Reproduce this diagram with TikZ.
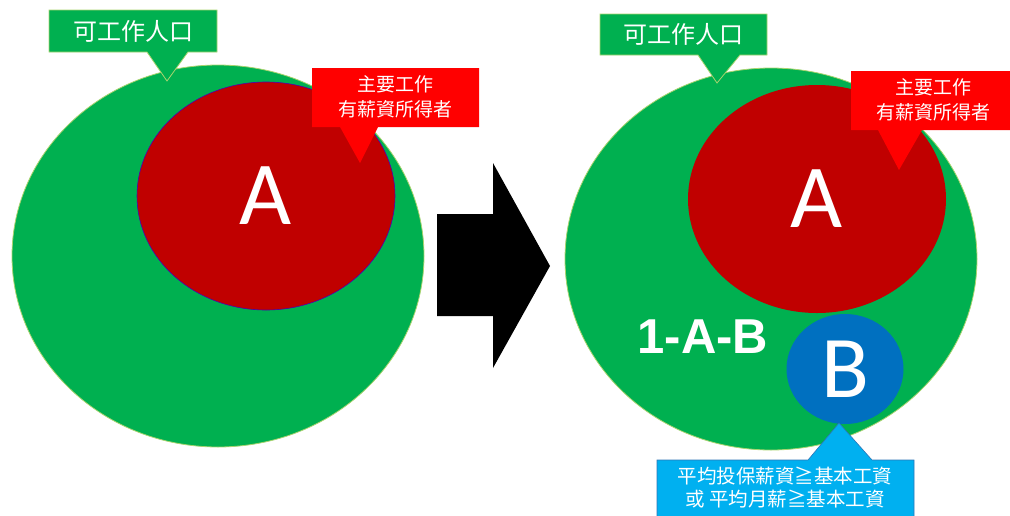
\documentclass[tikz,border=0pt]{standalone}
\usepackage{fontspec}
\setmainfont{Liberation Sans}
\newfontfamily\cjk{Noto Sans CJK TC}
\newfontfamily\calib{Carlito}
\usetikzlibrary{shapes.geometric}
\definecolor{popgreen}{HTML}{00B050}
\definecolor{popedge}{HTML}{A9D46F}
\definecolor{workred}{HTML}{C00000}
\definecolor{tagred}{HTML}{FF0000}
\definecolor{wageblue}{HTML}{0070C0}
\definecolor{tagblue}{HTML}{00B0F0}
\definecolor{tagedge}{HTML}{2E75B6}
\tikzset{
	popset/.style={ellipse, fill=popgreen, draw=popedge, line width=0.8pt, minimum width=412pt, minimum height=382pt, inner sep=0pt},
	workset/.style={ellipse, fill=workred, minimum width=258pt, minimum height=228pt, inner sep=0pt, text=white, font=\calib\fontsize{90}{90}\selectfont},
	wageset/.style={ellipse, fill=wageblue, minimum width=117pt, minimum height=110pt, inner sep=0pt, text=white, font=\calib\fontsize{88}{88}\selectfont},
	poptag/.style={text=white, font=\cjk\fontsize{24}{28}\selectfont},
	worktag/.style={text=white, align=center, font=\cjk\fontsize{19}{25}\selectfont},
	wagetag/.style={text=white, align=center, font=\cjk\fontsize{19.5}{23}\selectfont}
}
\begin{document}
\begin{tikzpicture}[x=1pt,y=-1pt]
	\useasboundingbox (0,0) rectangle (1010,515);
	\node[popset] (popL) at (218,256) {};
	\node[workset, draw=violet!60!blue, line width=0.6pt] (workL) at (266,196) {A};
	\fill[popgreen, draw=popedge, line width=0.8pt] (49,10) -- (217,10) -- (217,52) -- (188,52) -- (167,81) -- (147,52) -- (49,52) -- cycle;
	\node[poptag] (tagPopL) at (133,31) {可工作人口};
	\fill[tagred] (312,68) -- (479,68) -- (479,127) -- (378,127) -- (360,163) -- (340,127) -- (312,127) -- cycle;
	\node[worktag] (tagWorkL) at (395,97) {主要工作\\有薪資所得者};
	\fill[black] (437,214) -- (493,214) -- (493,163) -- (550,266) -- (493,368) -- (493,316) -- (437,316) -- cycle;
	\node[popset] (popR) at (771,259) {};
	\node[workset] (workR) at (817,199) {A};
	\node[wageset] (wageR) at (845,369) {B};
	\node[text=white, font=\bfseries\fontsize{49}{49}\selectfont] (restR) at (703,337) {1-A-B};
	\fill[popgreen, draw=popedge, line width=0.8pt] (600,14) -- (767,14) -- (767,55) -- (740,55) -- (717,83) -- (698,55) -- (600,55) -- cycle;
	\node[poptag] (tagPopR) at (683,34) {可工作人口};
	\fill[tagred] (851,71) -- (1012,71) -- (1012,130) -- (922,130) -- (899,170) -- (878,130) -- (851,130) -- cycle;
	\node[worktag] (tagWorkR) at (933,100) {主要工作\\有薪資所得者};
	\fill[tagblue, draw=tagedge, line width=0.6pt] (657,520) -- (657,460) -- (808,460) -- (839,423) -- (872,460) -- (914,460) -- (914,520);
	\node[wagetag] (tagWageR) at (785,488) {平均投保薪資≧基本工資\\或 平均月薪≧基本工資};
\end{tikzpicture}
\end{document}
